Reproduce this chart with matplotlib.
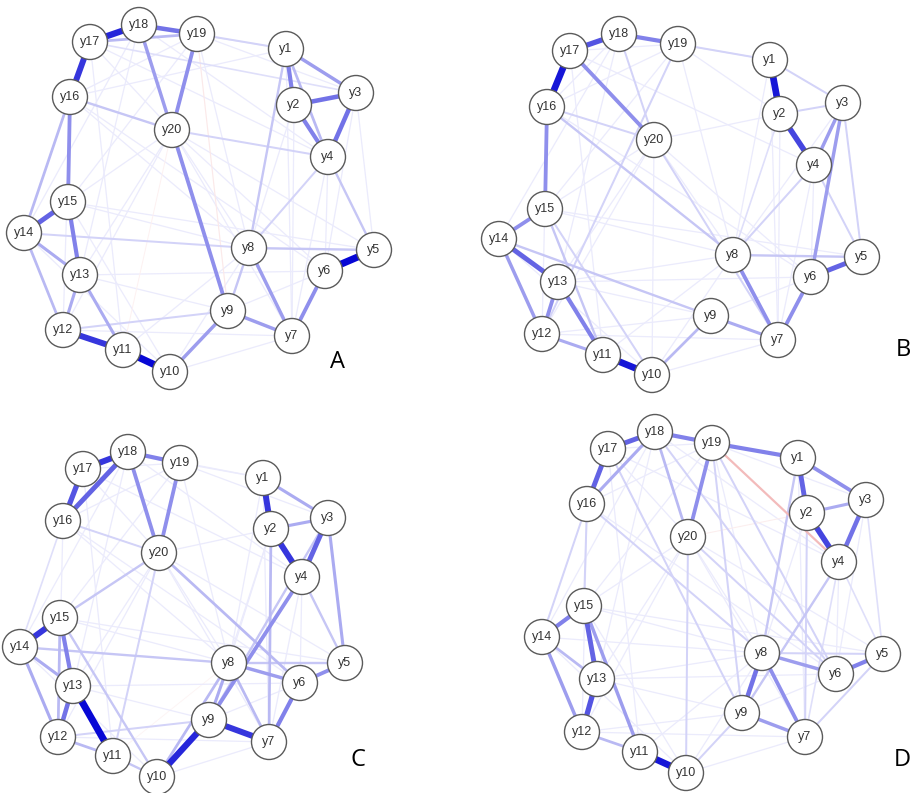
import numpy as np
import matplotlib.pyplot as plt
from matplotlib.patches import Circle

# подписи узлов
nodes = ['y%d' % i for i in range(1, 21)]

# координаты узлов (пиксели исходной картинки), панели A-D
ax_A = [286, 294, 356, 328, 374, 325, 292, 249, 228, 170, 123, 63, 80, 24, 68, 70, 90, 139, 197, 172]
ay_A = [49, 105, 93, 157, 250, 271, 336, 248, 311, 372, 350, 330, 275, 233, 202, 97, 42, 25, 34, 130]
ax_B = [770, 780, 843, 814, 862, 811, 778, 733, 711, 652, 603, 542, 558, 499, 545, 547, 570, 619, 678, 654]
ay_B = [60, 114, 103, 165, 257, 277, 340, 255, 316, 375, 355, 334, 282, 239, 209, 107, 51, 34, 44, 140]
ax_C = [263, 271, 328, 302, 345, 300, 269, 229, 209, 157, 113, 58, 73, 20, 60, 63, 83, 128, 180, 159]
ay_C = [478, 529, 518, 577, 663, 683, 742, 663, 720, 777, 756, 737, 686, 647, 618, 521, 469, 452, 463, 553]
ax_D = [798, 807, 866, 839, 883, 836, 805, 762, 742, 686, 640, 582, 597, 542, 584, 587, 608, 655, 712, 688]
ay_D = [458, 513, 500, 562, 654, 674, 737, 653, 713, 773, 752, 732, 679, 637, 606, 504, 449, 432, 443, 537]

# рёбра: (узел, узел, вес); отрицательный вес - красное ребро
edges_A = [(17, 18, 0.8), (18, 19, 0.55), (17, 19, 0.3), (16, 17, 0.75), (16, 15, 0.45),
           (15, 14, 0.6), (15, 13, 0.5), (14, 13, 0.35), (14, 12, 0.3), (13, 12, 0.35),
           (12, 11, 0.75), (11, 10, 0.9), (13, 11, 0.35), (14, 16, 0.3), (18, 20, 0.4),
           (19, 20, 0.45), (20, 9, 0.45), (10, 9, 0.4), (16, 20, 0.25), (19, 9, -0.15),
           (20, 11, -0.1), (1, 2, 0.5), (2, 3, 0.55), (3, 4, 0.55), (2, 4, 0.5),
           (1, 3, 0.4), (1, 4, 0.3), (5, 6, 0.9), (6, 7, 0.45), (8, 7, 0.4), (9, 7, 0.4),
           (8, 5, 0.25), (4, 5, 0.25), (8, 1, 0.25), (9, 8, 0.25), (19, 1, 0.2),
           (4, 8, 0.2), (20, 4, 0.2), (14, 8, 0.2), (17, 3, 0.15), (12, 9, 0.2)]
faint_A = [(16, 19), (16, 1), (17, 20), (15, 20), (15, 19), (14, 18), (13, 20), (13, 9),
           (12, 20), (15, 8), (16, 8), (16, 6), (17, 4), (18, 1), (18, 4), (19, 3),
           (20, 8), (20, 6), (20, 7), (20, 5), (1, 7), (2, 8), (2, 7), (4, 7), (4, 6),
           (3, 5), (10, 8), (10, 7), (11, 8), (12, 7), (13, 6), (14, 10), (15, 10),
           (17, 11), (16, 12), (19, 8), (3, 6), (9, 6), (18, 13), (15, 5)]

edges_B = [(17, 18, 0.65), (18, 19, 0.5), (16, 17, 0.85), (17, 20, 0.45), (16, 15, 0.45),
           (15, 14, 0.45), (14, 13, 0.6), (14, 12, 0.4), (13, 12, 0.45), (13, 11, 0.5),
           (12, 11, 0.35), (11, 10, 0.85), (10, 9, 0.3), (1, 2, 0.85), (2, 4, 0.7),
           (3, 4, 0.4), (3, 6, 0.4), (5, 6, 0.6), (6, 7, 0.45), (8, 7, 0.45), (9, 7, 0.35),
           (8, 5, 0.25), (1, 3, 0.2), (2, 3, 0.2), (19, 1, 0.2), (3, 5, 0.2), (4, 5, 0.2),
           (18, 20, 0.2), (16, 20, 0.2), (15, 11, 0.25), (15, 10, 0.2), (14, 9, 0.25),
           (20, 7, 0.2), (16, 8, 0.25), (12, 19, 0.2), (4, 8, 0.2), (2, 8, 0.15)]
faint_B = [(17, 19), (16, 18), (16, 19), (15, 20), (15, 19), (14, 18), (13, 20), (13, 9),
           (12, 20), (15, 8), (16, 6), (17, 4), (18, 1), (19, 2), (19, 8), (20, 8), (20, 6),
           (20, 2), (1, 8), (1, 7), (2, 7), (4, 7), (4, 6), (10, 8), (10, 7), (11, 8),
           (12, 7), (13, 6), (14, 10), (17, 11), (16, 12), (3, 8), (9, 6), (18, 13),
           (15, 5), (12, 9), (13, 8), (20, 10)]

edges_C = [(17, 18, 0.75), (16, 17, 0.65), (16, 18, 0.6), (18, 19, 0.5), (18, 20, 0.45),
           (19, 20, 0.45), (15, 14, 0.75), (15, 13, 0.5), (15, 12, 0.3), (14, 13, 0.35),
           (14, 12, 0.35), (13, 12, 0.55), (13, 11, 0.9), (12, 11, 0.3), (11, 10, 0.25),
           (10, 9, 0.8), (9, 7, 0.75), (1, 2, 0.75), (2, 4, 0.75), (3, 4, 0.6),
           (2, 3, 0.35), (1, 3, 0.35), (3, 5, 0.35), (4, 5, 0.25), (6, 5, 0.45),
           (6, 7, 0.5), (8, 6, 0.4), (8, 5, 0.25), (8, 7, 0.3), (8, 9, 0.35), (4, 9, 0.45),
           (3, 9, 0.25), (2, 7, 0.3), (20, 6, 0.3), (15, 20, 0.25), (14, 8, 0.25),
           (20, 11, 0.2), (15, 10, 0.25), (16, 20, 0.2), (16, 14, 0.15), (8, 10, 0.3),
           (12, 9, 0.2), (11, 8, -0.08)]
faint_C = [(17, 19), (16, 19), (17, 20), (15, 19), (14, 18), (13, 20), (13, 9), (12, 20),
           (15, 8), (16, 8), (16, 6), (17, 4), (18, 1), (18, 4), (19, 3), (19, 1),
           (20, 8), (20, 7), (20, 5), (1, 8), (1, 7), (2, 8), (4, 7), (4, 6), (10, 7),
           (12, 7), (13, 6), (14, 10), (17, 11), (16, 12), (19, 8), (9, 6), (18, 13),
           (15, 5), (2, 9), (20, 2)]

edges_D = [(17, 18, 0.6), (16, 17, 0.6), (16, 18, 0.35), (18, 19, 0.5), (18, 20, 0.3),
           (19, 20, 0.45), (19, 1, 0.5), (19, 4, -0.4), (1, 2, 0.6), (1, 3, 0.45),
           (2, 3, 0.35), (2, 4, 0.7), (3, 4, 0.55), (15, 14, 0.5), (15, 13, 0.6),
           (15, 11, 0.4), (14, 12, 0.4), (14, 13, 0.3), (13, 12, 0.65), (12, 11, 0.3),
           (11, 10, 0.85), (16, 14, 0.2), (16, 15, 0.2), (8, 9, 0.55), (8, 7, 0.45),
           (9, 7, 0.4), (8, 6, 0.4), (6, 5, 0.5), (8, 5, 0.2), (1, 8, 0.25), (4, 9, 0.25),
           (2, 7, 0.2), (20, 10, 0.2), (19, 6, 0.2), (20, 2, -0.12), (16, 8, 0.2),
           (17, 9, 0.2), (4, 5, 0.15), (4, 7, 0.15), (3, 5, 0.15), (7, 5, 0.2),
           (10, 9, 0.2), (18, 6, 0.2), (19, 9, 0.2), (20, 6, 0.2)]
faint_D = [(17, 19), (16, 19), (17, 20), (15, 20), (15, 19), (14, 18), (13, 20), (13, 9),
           (12, 20), (15, 8), (16, 6), (17, 4), (18, 1), (18, 4), (19, 3), (20, 8),
           (20, 7), (20, 5), (1, 7), (2, 8), (4, 6), (10, 8), (10, 7), (11, 8), (12, 7),
           (13, 6), (14, 10), (15, 10), (17, 11), (16, 12), (19, 8), (3, 6), (9, 6),
           (18, 13), (15, 5), (12, 9), (14, 8), (13, 8)]

panels = [('A', ax_A, ay_A, edges_A, faint_A, (338, 362)),
          ('B', ax_B, ay_B, edges_B, faint_B, (903, 350)),
          ('C', ax_C, ay_C, edges_C, faint_C, (358, 760)),
          ('D', ax_D, ay_D, edges_D, faint_D, (902, 760))]

pos_col = np.array([0.0, 0.0, 0.83])
neg_col = np.array([0.88, 0.3, 0.3])
white = np.array([1.0, 1.0, 1.0])


def edge_style(w):
    a = min(1.0, 1.1 * abs(w) ** 1.15)
    base = pos_col if w > 0 else neg_col
    col = white * (1 - a) + base * a
    lw = 0.4 + 5.2 * abs(w)
    if w < 0:
        lw = 0.4 + 3.0 * abs(w)
    return col, lw


fig = plt.figure(figsize=(9.18, 7.93), dpi=100)
ax = fig.add_axes([0, 0, 1, 1])
ax.set_xlim(0, 918)
ax.set_ylim(793, 0)
ax.axis('off')

for name, xs, ys, edges, faint, lab in panels:
    all_edges = [(i, j, 0.1) for i, j in faint] + list(edges)
    all_edges.sort(key=lambda e: abs(e[2]))
    for i, j, w in all_edges:
        col, lw = edge_style(w)
        ax.plot([xs[i - 1], xs[j - 1]], [ys[i - 1], ys[j - 1]], color=col, lw=lw,
                solid_capstyle='butt', zorder=1)
    for k in range(20):
        ax.add_patch(Circle((xs[k], ys[k]), 17.5, facecolor='white', edgecolor='#5a5a5a',
                            lw=1.0, zorder=3))
        ax.text(xs[k], ys[k], nodes[k], ha='center', va='center', fontsize=9,
                family='Liberation Sans', color='#333333', zorder=4)
    ax.text(lab[0], lab[1], name, ha='center', va='center', fontsize=17,
            family='Open Sans', color='black')

fig.savefig('out.png', dpi=100)
